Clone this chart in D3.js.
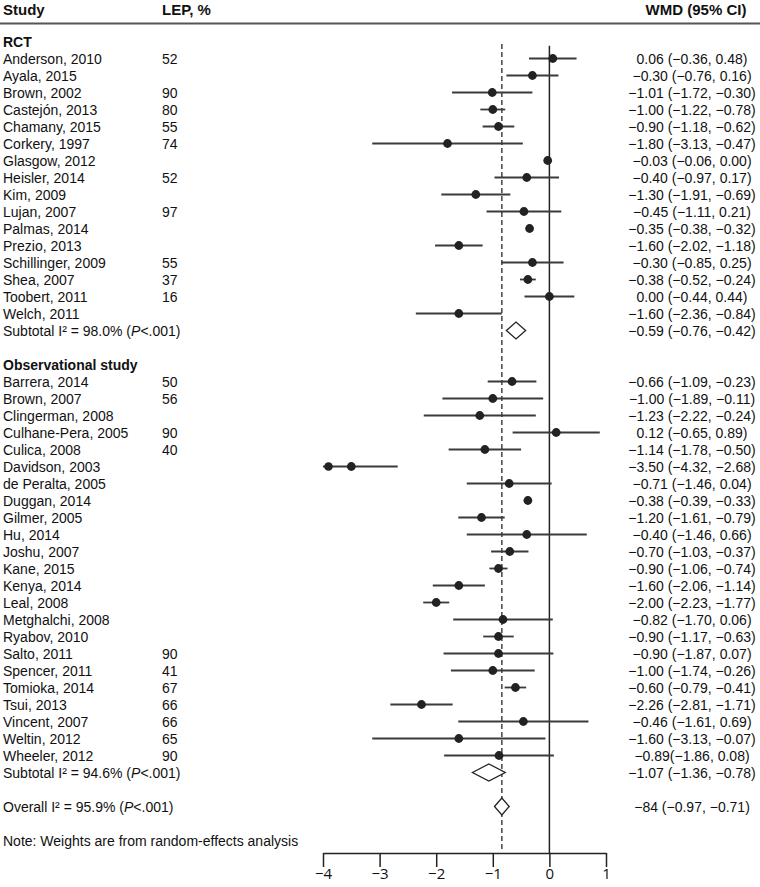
<!DOCTYPE html>
<html><head><meta charset="utf-8">
<script src="https://cdn.jsdelivr.net/npm/d3@7"></script>
<style>body{margin:0;background:#fff}svg{display:block}</style>
</head><body>
<script>
// ---------- DATA ----------
const rctStudy = ["Anderson, 2010","Ayala, 2015","Brown, 2002","Castejón, 2013","Chamany, 2015","Corkery, 1997","Glasgow, 2012","Heisler, 2014","Kim, 2009","Lujan, 2007","Palmas, 2014","Prezio, 2013","Schillinger, 2009","Shea, 2007","Toobert, 2011","Welch, 2011"];
const rctLEP = ["52","","90","80","55","74","","52","","97","","","55","37","16",""];
const rctWMD = [0.06,-0.30,-1.01,-1.00,-0.90,-1.80,-0.03,-0.40,-1.30,-0.45,-0.35,-1.60,-0.30,-0.38,0.00,-1.60];
const rctLower = [-0.36,-0.76,-1.72,-1.22,-1.18,-3.13,-0.06,-0.97,-1.91,-1.11,-0.38,-2.02,-0.85,-0.52,-0.44,-2.36];
const rctUpper = [0.48,0.16,-0.30,-0.78,-0.62,-0.47,0.00,0.17,-0.69,0.21,-0.32,-1.18,0.25,-0.24,0.44,-0.84];
const rctCI = ["0.06 (−0.36, 0.48)","−0.30 (−0.76, 0.16)","−1.01 (−1.72, −0.30)","−1.00 (−1.22, −0.78)","−0.90 (−1.18, −0.62)","−1.80 (−3.13, −0.47)","−0.03 (−0.06, 0.00)","−0.40 (−0.97, 0.17)","−1.30 (−1.91, −0.69)","−0.45 (−1.11, 0.21)","−0.35 (−0.38, −0.32)","−1.60 (−2.02, −1.18)","−0.30 (−0.85, 0.25)","−0.38 (−0.52, −0.24)","0.00 (−0.44, 0.44)","−1.60 (−2.36, −0.84)"];

const obsStudy = ["Barrera, 2014","Brown, 2007","Clingerman, 2008","Culhane-Pera, 2005","Culica, 2008","Davidson, 2003","de Peralta, 2005","Duggan, 2014","Gilmer, 2005","Hu, 2014","Joshu, 2007","Kane, 2015","Kenya, 2014","Leal, 2008","Metghalchi, 2008","Ryabov, 2010","Salto, 2011","Spencer, 2011","Tomioka, 2014","Tsui, 2013","Vincent, 2007","Weltin, 2012","Wheeler, 2012"];
const obsLEP = ["50","56","","90","40","","","","","","","","","","","","90","41","67","66","66","65","90"];
const obsWMD = [-0.66,-1.00,-1.23,0.12,-1.14,-3.50,-0.71,-0.38,-1.20,-0.40,-0.70,-0.90,-1.60,-2.00,-0.82,-0.90,-0.90,-1.00,-0.60,-2.26,-0.46,-1.60,-0.89];
const obsLower = [-1.09,-1.89,-2.22,-0.65,-1.78,-4.32,-1.46,-0.39,-1.61,-1.46,-1.03,-1.06,-2.06,-2.23,-1.70,-1.17,-1.87,-1.74,-0.79,-2.81,-1.61,-3.13,-1.86];
const obsUpper = [-0.23,-0.11,-0.24,0.89,-0.50,-2.68,0.04,-0.33,-0.79,0.66,-0.37,-0.74,-1.14,-1.77,0.06,-0.63,0.07,-0.26,-0.41,-1.71,0.69,-0.07,0.08];
const obsCI = ["−0.66 (−1.09, −0.23)","−1.00 (−1.89, −0.11)","−1.23 (−2.22, −0.24)","0.12 (−0.65, 0.89)","−1.14 (−1.78, −0.50)","−3.50 (−4.32, −2.68)","−0.71 (−1.46, 0.04)","−0.38 (−0.39, −0.33)","−1.20 (−1.61, −0.79)","−0.40 (−1.46, 0.66)","−0.70 (−1.03, −0.37)","−0.90 (−1.06, −0.74)","−1.60 (−2.06, −1.14)","−2.00 (−2.23, −1.77)","−0.82 (−1.70, 0.06)","−0.90 (−1.17, −0.63)","−0.90 (−1.87, 0.07)","−1.00 (−1.74, −0.26)","−0.60 (−0.79, −0.41)","−2.26 (−2.81, −1.71)","−0.46 (−1.61, 0.69)","−1.60 (−3.13, −0.07)","−0.89(−1.86, 0.08)"];

const pooledLabel = [["Subtotal I² = 98.0% (","P","<.001)"],["Subtotal I² = 94.6% (","P","<.001)"],["Overall I² = 95.9% (","P","<.001)"]];
const pooledWMD = [-0.59,-1.07,-0.84];
const pooledLower = [-0.76,-1.36,-0.97];
const pooledUpper = [-0.42,-0.78,-0.71];
const pooledCI = ["−0.59 (−0.76, −0.42)","−1.07 (−1.36, −0.78)","−84 (−0.97, −0.71)"];

const groupTitles = ["RCT","Observational study"];
const headers = ["Study","LEP, %","WMD (95% CI)"];
const xTicks = [-4,-3,-2,-1,0,1];
const xDomain = [-4,1];
const note = "Note: Weights are from random-effects analysis";

// ---------- LAYOUT ----------
const W = 760, H = 887;
const svg = d3.select("body").append("svg").attr("width",W).attr("height",H);
const FONT = "'Liberation Sans', Arial, sans-serif";
const x = d3.scaleLinear().domain(xDomain).range([323,606]);
const y = d3.scaleLinear().domain([0,1]).range([58.5,75.5]); // row index -> y

// build rows
const rows = [];
let idx = -1;
rows.push({type:"group", label:groupTitles[0], i:idx++});
rctStudy.forEach((s,k)=>rows.push({type:"study", label:s, lep:rctLEP[k], est:rctWMD[k], lo:rctLower[k], hi:rctUpper[k], ci:rctCI[k], i:idx++}));
rows.push({type:"pooled", label:pooledLabel[0], est:pooledWMD[0], lo:pooledLower[0], hi:pooledUpper[0], ci:pooledCI[0], i:idx++});
idx++;
rows.push({type:"group", label:groupTitles[1], i:idx++});
obsStudy.forEach((s,k)=>rows.push({type:"study", label:s, lep:obsLEP[k], est:obsWMD[k], lo:obsLower[k], hi:obsUpper[k], ci:obsCI[k], i:idx++}));
rows.push({type:"pooled", label:pooledLabel[1], est:pooledWMD[1], lo:pooledLower[1], hi:pooledUpper[1], ci:pooledCI[1], i:idx++});
idx++;
rows.push({type:"pooled", label:pooledLabel[2], est:pooledWMD[2], lo:pooledLower[2], hi:pooledUpper[2], ci:pooledCI[2], i:idx++});
idx++;
const noteRow = idx;

// header
const hdr = svg.append("g").attr("font-family",FONT).attr("font-size",15).attr("font-weight","bold").attr("fill","#111");
hdr.append("text").attr("x",3).attr("y",15).text(headers[0]);
hdr.append("text").attr("x",162).attr("y",15).text(headers[1]);
hdr.append("text").attr("x",696).attr("y",15).attr("text-anchor","middle").text(headers[2]);
svg.append("line").attr("x1",0).attr("x2",W).attr("y1",23.5).attr("y2",23.5).attr("stroke","#555").attr("stroke-width",2);

// reference lines
const axisY = 853;
svg.append("line").attr("x1",x(0)).attr("x2",x(0)).attr("y1",y(-0.75)).attr("y2",axisY)
  .attr("stroke","#222").attr("stroke-width",1.5);
svg.append("line").attr("x1",x(pooledWMD[2])).attr("x2",x(pooledWMD[2])).attr("y1",y(-0.85)).attr("y2",axisY-2)
  .attr("stroke","#444").attr("stroke-width",1.5).attr("stroke-dasharray","5,3");

// text columns
const txt = svg.append("g").attr("font-family",FONT).attr("font-size",14).attr("fill","#111");
rows.forEach(r=>{
  const yy = y(r.i)+5;
  if(r.type==="group"){
    txt.append("text").attr("x",3).attr("y",yy).attr("font-weight","bold").text(r.label);
  } else if(r.type==="study"){
    txt.append("text").attr("x",3).attr("y",yy).text(r.label);
    if(r.lep) txt.append("text").attr("x",162).attr("y",yy).text(r.lep);
    txt.append("text").attr("x",692).attr("y",yy).attr("text-anchor","middle").text(r.ci);
  } else {
    const t = txt.append("text").attr("x",3).attr("y",yy);
    t.append("tspan").text(r.label[0]);
    t.append("tspan").attr("font-style","italic").text(r.label[1]);
    t.append("tspan").text(r.label[2]);
    txt.append("text").attr("x",692).attr("y",yy).attr("text-anchor","middle").text(r.ci);
  }
});
txt.append("text").attr("x",3).attr("y",y(noteRow)+5).text(note);

// marks
const marks = svg.append("g");
const [dMin,dMax] = xDomain;
rows.filter(r=>r.type==="study").forEach(r=>{
  const yy = y(r.i);
  const lo = Math.max(r.lo,dMin), hi = Math.min(r.hi,dMax);
  marks.append("line").attr("x1",x(lo)).attr("x2",x(hi)).attr("y1",yy).attr("y2",yy)
    .attr("stroke","#3a3a3a").attr("stroke-width",1.8);
  if(r.lo<dMin){
    marks.append("circle").attr("cx",x(dMin)+5.5).attr("cy",yy).attr("r",4.3).attr("fill","#222");
  }
  marks.append("circle").attr("cx",x(r.est)).attr("cy",yy).attr("r",4.4).attr("fill","#222");
});
rows.filter(r=>r.type==="pooled").forEach(r=>{
  const yy = y(r.i), h = 8.5;
  const pts = [[x(r.lo),yy],[x(r.est),yy-h],[x(r.hi),yy],[x(r.est),yy+h]];
  marks.append("path").attr("d","M"+pts.map(p=>p.join(",")).join("L")+"Z")
    .attr("fill","#fff").attr("stroke","#222").attr("stroke-width",1.3);
});

// axis
const ax = svg.append("g").attr("transform",`translate(0,${axisY})`)
  .call(d3.axisBottom(x).tickValues(xTicks).tickSize(14).tickSizeOuter(0).tickPadding(3).tickFormat(d3.format("d")));
ax.select(".domain").attr("stroke","#222").attr("stroke-width",1.5);
ax.selectAll(".tick line").attr("stroke","#222").attr("stroke-width",1.5);
ax.selectAll(".tick text").attr("font-family","'Open Sans', 'DejaVu Sans', sans-serif").attr("font-size",15).attr("fill","#111").attr("dy","0.6em");
</script>
</body></html>
